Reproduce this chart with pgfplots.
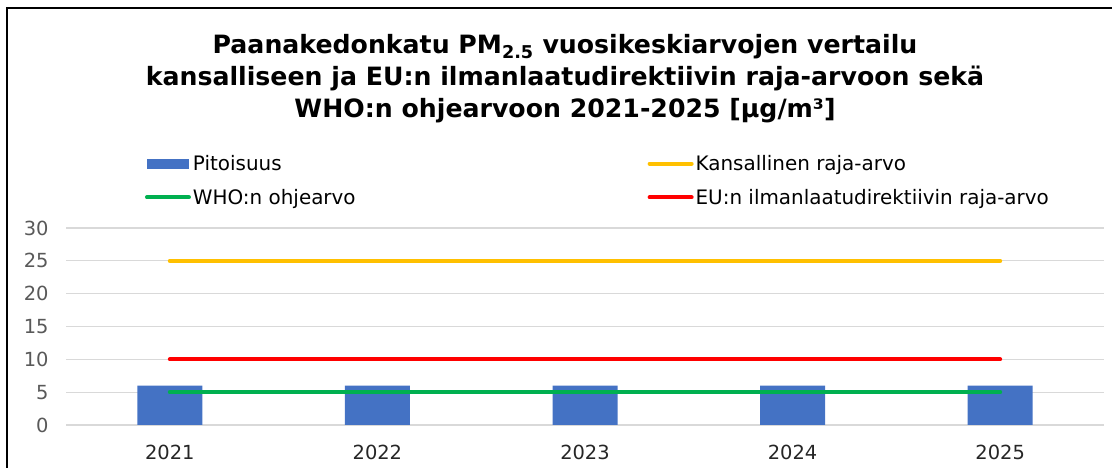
\documentclass[border=0pt]{standalone}
\usepackage{pgfplots}
\pgfplotsset{compat=1.18}
\usepackage{fontspec}
\setmainfont{DejaVu Sans}
\definecolor{barblue}{HTML}{4472C4}
\definecolor{lyellow}{HTML}{FFC000}
\definecolor{lred}{HTML}{FF0000}
\definecolor{lgreen}{HTML}{00B050}
\definecolor{gridgray}{HTML}{D9D9D9}
\definecolor{labgray}{HTML}{595959}
\begin{document}
\begin{tikzpicture}[x=1bp,y=1bp]
\useasboundingbox (0,0) rectangle (1112,468);
\draw[line width=1.2bp] (7,0) -- (7,460) -- (1112,460);
\node[align=center, font=\fontsize{25.3}{32}\selectfont\bfseries] at (565,389)
 {Paanakedonkatu PM\textsubscript{2.5} vuosikeskiarvojen vertailu\\
  kansalliseen ja EU:n ilmanlaatudirektiivin raja-arvoon sekä\\
  WHO:n ohjearvoon 2021-2025 [µg/m³]};
\begin{axis}[
  at={(66bp,43bp)}, anchor=south west, scale only axis,
  width=1038bp, height=197bp,
  xmin=-0.5, xmax=4.5, ymin=0, ymax=30,
  ytick={0,5,...,30}, xtick={0,1,2,3,4},
  xticklabels={2021,2022,2023,2024,2025},
  axis line style={draw=none}, major tick length=0pt,
  ymajorgrids, grid style={color=gridgray, line width=1.3bp},
  tick label style={font=\fontsize{19.5}{20}\selectfont},
  yticklabel style={color=labgray, xshift=-14bp},
  xticklabel style={color=black!85, yshift=-17bp},
  /pgf/number format/assume math mode=true,
  clip=false,
  legend columns=2,
  legend style={draw=none, fill=none, font=\fontsize{20}{22}\selectfont,
    legend cell align=left, at={(0.073,1.39)}, anchor=north west,
    row sep=13bp,
    /tikz/column 2/.style={column sep=290bp}},
]
\addplot[ybar, bar width=65bp, fill=barblue, draw=none,
  legend image code/.code={\fill[barblue] (0bp,-5bp) rectangle (42bp,5bp);}]
  coordinates {(0,6) (1,6) (2,6) (3,6) (4,6)};
\addlegendentry{Pitoisuus}
\addplot[lyellow, line width=4bp, line cap=round, mark=none,
  legend image code/.code={\draw[lyellow, line width=4bp, line cap=round] (0bp,0bp) -- (42bp,0bp);}]
  coordinates {(0,25) (1,25) (2,25) (3,25) (4,25)};
\addlegendentry{Kansallinen raja-arvo}
\addplot[lgreen, line width=4bp, line cap=round, mark=none,
  legend image code/.code={\draw[lgreen, line width=4bp, line cap=round] (0bp,0bp) -- (42bp,0bp);}]
  coordinates {(0,5) (1,5) (2,5) (3,5) (4,5)};
\addlegendentry{WHO:n ohjearvo}
\addplot[lred, line width=4bp, line cap=round, mark=none,
  legend image code/.code={\draw[lred, line width=4bp, line cap=round] (0bp,0bp) -- (42bp,0bp);}]
  coordinates {(0,10) (1,10) (2,10) (3,10) (4,10)};
\addlegendentry{EU:n ilmanlaatudirektiivin raja-arvo}
\end{axis}
\end{tikzpicture}
\end{document}
